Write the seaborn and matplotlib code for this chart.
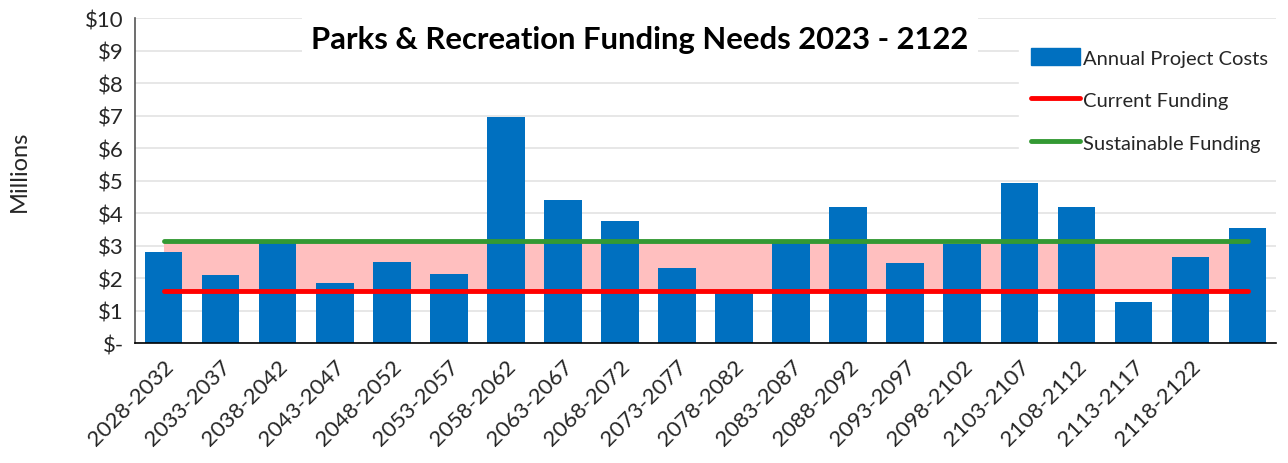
import matplotlib
matplotlib.use("Agg")
import matplotlib.pyplot as plt
import matplotlib.patches as mpatches
import matplotlib.lines as mlines
import numpy as np
import pandas as pd
import seaborn as sns

# values (millions of dollars)
periods = ["2028-2032", "2033-2037", "2038-2042", "2043-2047", "2048-2052",
           "2053-2057", "2058-2062", "2063-2067", "2068-2072", "2073-2077",
           "2078-2082", "2083-2087", "2088-2092", "2093-2097", "2098-2102",
           "2103-2107", "2108-2112", "2113-2117", "2118-2122", ""]
project_costs = [2.8, 2.1, 3.1, 1.84, 2.49, 2.12, 6.95, 4.39, 3.74, 2.31,
                 1.55, 3.1, 4.2, 2.46, 3.04, 4.91, 4.2, 1.25, 2.65, 3.55]
current_funding = 1.6
sustainable_funding = 3.15

blue = "#0070C0"
red = "#FF0000"
green = "#339933"
pink = "#FFBFBF"

sns.set_theme(style="white")
plt.rcParams["font.family"] = ["Lato", "DejaVu Sans"]

df = pd.DataFrame({"slot": np.arange(len(project_costs)), "cost": project_costs})

fig = plt.figure(figsize=(12.88, 4.64), dpi=100)
ax = fig.add_axes([0.1048, 0.2586, 0.886, 0.7004])

x = df["slot"].to_numpy()
ax.fill_between(x, current_funding, sustainable_funding, color=pink, lw=0, zorder=1)
sns.barplot(data=df, x="slot", y="cost", color=blue, saturation=1, width=0.66,
            linewidth=0, ax=ax, zorder=2)
ax.plot(x, [current_funding] * len(x), color=red, lw=3.5, zorder=3,
        solid_capstyle="round")
ax.plot(x, [sustainable_funding] * len(x), color=green, lw=3.5, zorder=3,
        solid_capstyle="round")

ax.set_xlim(-0.5, len(x) - 0.5)
ax.set_ylim(0, 10)
ax.set_yticks(range(0, 11))
ax.set_yticklabels(["$-"] + [f"${i}" for i in range(1, 11)], fontsize=16)
ax.set_xticks(x)
ax.set_xticklabels(periods, rotation=45, ha="right", rotation_mode="anchor",
                   fontsize=16)
ax.tick_params(axis="x", pad=9, length=0)
ax.tick_params(axis="y", pad=8, length=0)
ax.set_xlabel("")
ax.set_ylabel("Millions", fontsize=17)
ax.yaxis.set_label_coords(-0.092, 0.53)

ax.yaxis.grid(True, color="#E3E3E3", lw=1.2, zorder=0)
ax.set_axisbelow(True)
for s in ["top", "right"]:
    ax.spines[s].set_visible(False)
ax.spines["left"].set_color("#555555")
ax.spines["bottom"].set_color("#000000")
ax.spines["left"].set_linewidth(1.2)
ax.spines["bottom"].set_linewidth(1.2)

ax.text(0.4426, 0.935, "Parks & Recreation Funding Needs 2023 - 2122",
        transform=ax.transAxes, ha="center", va="center", fontsize=22.3,
        fontweight="bold", color="black", zorder=5,
        bbox=dict(boxstyle="square,pad=0.3", fc="white", ec="none"))

handles = [mpatches.Patch(color=blue, label="Annual Project Costs"),
           mlines.Line2D([], [], color=red, lw=3.5, label="Current Funding"),
           mlines.Line2D([], [], color=green, lw=3.5, label="Sustainable Funding")]
leg = ax.legend(handles=handles, loc="upper right", bbox_to_anchor=(1.012, 0.975),
                fontsize=14.5, frameon=True, fancybox=False, framealpha=1,
                edgecolor="white", labelspacing=1.2, handlelength=2.4,
                handleheight=0.9, handletextpad=0.15, borderpad=0.6)
leg.set_zorder(5)

fig.savefig("out.png", dpi=100, facecolor="white")
